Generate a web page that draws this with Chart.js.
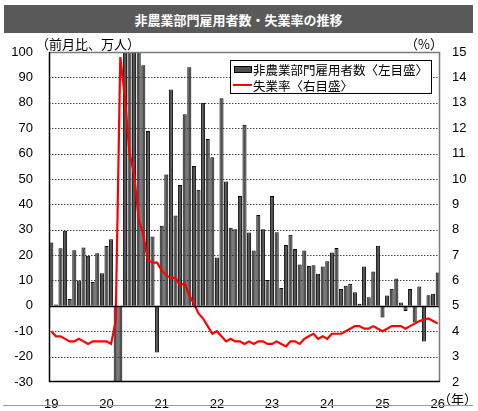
<!DOCTYPE html>
<html>
<head>
<meta charset="utf-8">
<script src="https://cdn.jsdelivr.net/npm/chart.js@4/dist/chart.umd.min.js"></script>
<style>
  html, body { margin: 0; padding: 0; background: #fff; }
  #wrap { position: relative; width: 478px; height: 411px; overflow: hidden; }
  #title {
    position: absolute; left: 4px; top: 5px; width: 469px; height: 28px;
    background: #595959; color: #fff; font: bold 13px "Noto Sans CJK JP", sans-serif;
    text-align: center; line-height: 30px;
  }
  .unit { position: absolute; font: 13px "Noto Sans CJK JP", sans-serif; color: #000; white-space: nowrap; }
  #bottomLine { position: absolute; left: 3px; top: 405px; width: 470px; height: 0; border-top: 1.5px solid #9a9a9a; }
  canvas { position: absolute; left: 0; top: 0; }
</style>
</head>
<body>
<div id="wrap">
  <canvas id="jobsChart" width="478" height="411" style="width:478px;height:411px"></canvas>
  <div id="title">非農業部門雇用者数・失業率の推移</div>
  <div class="unit" style="left:36px;top:34px">（前月比、万人）</div>
  <div class="unit" style="left:405px;top:34px">（%）</div>
  <div class="unit" style="left:438px;top:389px">（年）</div>
  <div id="bottomLine"></div>
</div>
<script>
// 年（目盛ラベル）
const yearLabels = ['19', '20', '21', '22', '23', '24', '25', '26'];

// 非農業部門雇用者数 前月比（万人）2019/1〜2026/1
const payrolls = [
    25.0, 0.5, 22.7, 29.6, 2.7, 21.9, 10.0, 23.0, 19.7, 9.4, 20.7, 12.8,
    23.6, 26.2, -137.3, -2047.7, 279.4, 478.2, 167.6, 158.3, 94.8, 68.9, 27.3, -18.4,
    31.6, 51.7, 85.2, 35.6, 47.6, 75.5, 94.0, 55.1, 45.7, 80.0, 65.7, 58.5,
    19.0, 81.8, 49.0, 30.8, 30.2, 43.3, 71.3, 28.9, 21.8, 35.8, 30.2, 10.2,
    43.3, 29.0, 7.0, 24.0, 28.0, 22.4, 16.3, 21.8, 15.7, 16.0, 12.6, 15.5,
    17.6, 21.0, 22.8, 6.6, 7.9, 8.7, 5.4, 0.8, 15.5, 3.4, 13.5, 23.7,
    -4.6, 4.1, 6.7, 10.8, 1.3, -2.0, 6.6, -6.6, 7.6, -14.0, 4.2, 4.8,
    13.1
];

// 失業率（%）
const unemployment = [
    4.0, 3.8, 3.8, 3.7, 3.6, 3.6, 3.7, 3.6, 3.5, 3.6, 3.6, 3.6,
    3.6, 3.5, 4.4, 14.8, 13.2, 11.0, 10.2, 8.4, 7.8, 6.8, 6.7, 6.7,
    6.4, 6.2, 6.1, 6.1, 5.8, 5.9, 5.4, 5.1, 4.7, 4.5, 4.2, 3.9,
    4.0, 3.8, 3.6, 3.7, 3.6, 3.6, 3.5, 3.6, 3.5, 3.6, 3.6, 3.5,
    3.5, 3.6, 3.5, 3.4, 3.6, 3.6, 3.5, 3.7, 3.8, 3.9, 3.7, 3.8,
    3.7, 3.9, 3.9, 3.9, 4.0, 4.1, 4.2, 4.2, 4.1, 4.1, 4.2, 4.1,
    4.0, 4.1, 4.2, 4.2, 4.2, 4.1, 4.2, 4.3, 4.4, null, 4.5, 4.4,
    4.3
];

// 月次カテゴリ
const months = payrolls.map((v, i) => yearLabels[Math.floor(i / 12)] + '/' + (i % 12 + 1));

const tickFont = { family: '"Liberation Sans", Arial, sans-serif', size: 13 };

// グリッド・枠・凡例
const framePlugin = {
    id: 'framePlugin',
    beforeDatasetsDraw(chart) {
        const { ctx, chartArea: a, scales: { y } } = chart;
        ctx.save();
        ctx.strokeStyle = '#4a4a4a';
        ctx.lineWidth = 1;
        ctx.setLineDash([1.5, 1.5]);
        y.ticks.forEach(t => {
            if (t.value === y.min || t.value === y.max || t.value === 0) return;
            const py = Math.round(y.getPixelForValue(t.value)) + 0.5;
            ctx.beginPath();
            ctx.moveTo(a.left, py);
            ctx.lineTo(a.right, py);
            ctx.stroke();
        });
        ctx.restore();
    },
    afterDatasetsDraw(chart) {
        const { ctx, chartArea: a, scales: { y } } = chart;
        ctx.save();
        // 0 line
        const zy = Math.round(y.getPixelForValue(0)) + 0.5;
        ctx.strokeStyle = '#000';
        ctx.lineWidth = 1.5;
        ctx.beginPath();
        ctx.moveTo(a.left, zy);
        ctx.lineTo(a.right, zy);
        ctx.stroke();
        // top / right border
        ctx.strokeStyle = '#7a7a7a';
        ctx.lineWidth = 1.5;
        ctx.beginPath();
        ctx.moveTo(a.left, a.top + 0.5);
        ctx.lineTo(a.right - 0.5, a.top + 0.5);
        ctx.lineTo(a.right - 0.5, a.bottom);
        ctx.stroke();
        // left / bottom axis
        ctx.strokeStyle = '#000';
        ctx.lineWidth = 1.5;
        ctx.beginPath();
        ctx.moveTo(a.left + 0.5, a.top);
        ctx.lineTo(a.left + 0.5, a.bottom - 0.5);
        ctx.lineTo(a.right, a.bottom - 0.5);
        ctx.stroke();

        // legend
        const ds = chart.data.datasets;
        ctx.fillStyle = '#fff';
        ctx.fillRect(230.5, 60.5, 201, 33);
        ctx.strokeStyle = '#000';
        ctx.lineWidth = 1;
        ctx.strokeRect(230.5, 60.5, 201, 33);
        ctx.fillStyle = ds[0].backgroundColor;
        ctx.fillRect(234.5, 66.5, 17, 6);
        ctx.strokeRect(234.5, 66.5, 17, 6);
        ctx.strokeStyle = ds[1].borderColor;
        ctx.lineWidth = 2;
        ctx.beginPath();
        ctx.moveTo(233, 85);
        ctx.lineTo(252, 85);
        ctx.stroke();
        ctx.fillStyle = '#000';
        ctx.font = '12.5px "Noto Sans CJK JP", sans-serif';
        ctx.textBaseline = 'middle';
        ctx.fillText(ds[0].label, 253, 70);
        ctx.fillText(ds[1].label, 253, 86);
        ctx.restore();
    }
};

const jobsCtx = document.getElementById('jobsChart');
const jobsChart = new Chart(jobsCtx, {
    type: 'bar',
    data: {
        labels: months,
        datasets: [{
            label: '非農業部門雇用者数〈左目盛〉',
            data: payrolls,
            yAxisID: 'y',
            backgroundColor: '#4f4f4f',
            borderColor: '#000000',
            borderWidth: 1,
            barPercentage: 0.88,
            categoryPercentage: 1.0,
            order: 1
        }, {
            type: 'line',
            label: '失業率〈右目盛〉',
            data: unemployment,
            yAxisID: 'y1',
            borderColor: '#ff0000',
            borderWidth: 2.2,
            pointRadius: 0,
            tension: 0,
            spanGaps: true,
            order: 0
        }]
    },
    options: {
        responsive: false,
        animation: false,
        layout: { padding: { top: 52, left: 0, right: 0, bottom: 0 } },
        plugins: {
            legend: { display: false },
            tooltip: { enabled: false }
        },
        scales: {
            x: {
                grid: { display: false },
                border: { display: false },
                afterFit(scale) { scale.height = 29; },
                ticks: {
                    autoSkip: false,
                    maxRotation: 0,
                    minRotation: 0,
                    padding: 7,
                    color: '#000',
                    font: tickFont,
                    callback: function(value, index) {
                        return index % 12 === 0 ? yearLabels[index / 12] : '';
                    }
                }
            },
            y: {
                position: 'left',
                min: -30,
                max: 100,
                grid: { display: false, drawTicks: false },
                border: { display: false },
                afterFit(scale) { scale.width = 49; },
                ticks: { stepSize: 10, padding: 16, color: '#000', font: tickFont }
            },
            y1: {
                position: 'right',
                min: 2,
                max: 15,
                grid: { display: false, drawTicks: false },
                border: { display: false },
                afterFit(scale) { scale.width = 38; },
                ticks: { stepSize: 1, padding: 12, color: '#000', font: tickFont }
            }
        }
    },
    plugins: [framePlugin]
});
</script>
</body>
</html>
